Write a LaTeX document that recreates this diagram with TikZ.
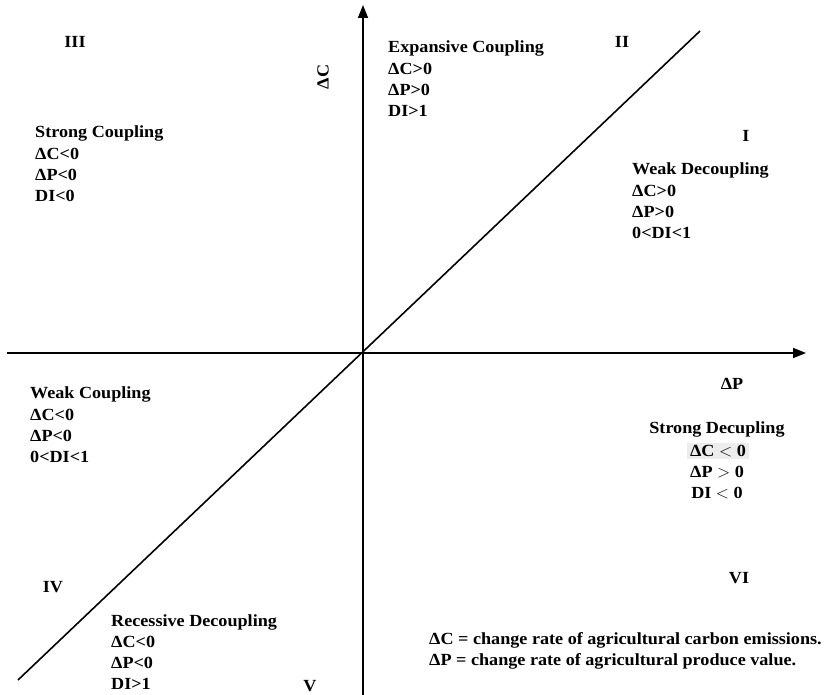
\documentclass[tikz,border=0pt]{standalone}
\usepackage{fontspec}
\setmainfont{Liberation Serif}[FakeStretch=1.067]
\usetikzlibrary{arrows.meta}
\begin{document}
\begin{tikzpicture}[x=1pt,y=-1pt,
  lbl/.style={font=\fontsize{17}{21.3}\selectfont\bfseries, inner sep=0pt},
  blk/.style={lbl, align=left, anchor=north west},
  axisline/.style={line width=1.6pt, -{Triangle[length=13pt,width=10pt]}},
  diag/.style={line width=1.6pt}]
\useasboundingbox (0,0) rectangle (825,695);
% axes
\coordinate (ytop) at (363,5);
\coordinate (ybot) at (363,695);
\coordinate (xl) at (7,353);
\coordinate (xr) at (806,353);
\coordinate (dl) at (18,680);
\coordinate (dr) at (700,31);
\draw[axisline] (ybot) -- (ytop);
\draw[axisline] (xl) -- (xr);
\draw[diag] (dl) -- (dr);
% axis labels
\node[lbl, rotate=90] (dC) at (323,77) {ΔC};
\node[lbl] (dP) at (732,384) {ΔP};
% roman numerals
\node[lbl] (r3) at (75,42) {III};
\node[lbl] (r2) at (622,42) {II};
\node[lbl] (r1) at (746,136) {I};
\node[lbl] (r4) at (53,587) {IV};
\node[lbl] (r5) at (310,686) {V};
\node[lbl] (r6) at (739,578) {VI};
% blocks
\node[blk] (exp) at (388,41) {Expansive Coupling\\ΔC>0\\ΔP>0\\DI>1};
\node[blk] (sc) at (35,126) {Strong Coupling\\ΔC<0\\ΔP<0\\DI<0};
\node[blk] (wd) at (632,163) {Weak Decoupling\\ΔC>0\\ΔP>0\\0<DI<1};
\node[blk] (wc) at (30,387) {Weak Coupling\\ΔC<0\\ΔP<0\\0<DI<1};
\node[blk] (rd) at (111,614) {Recessive Decoupling\\ΔC<0\\ΔP<0\\DI>1};
% strong decoupling
\node[lbl] (sd) at (717,429) {Strong Decupling};
\node[lbl, fill=black!7, inner xsep=3pt, inner ysep=2pt] (sd1) at (718,451) {ΔC $<$ 0};
\node[lbl] (sd2) at (717,472) {ΔP $>$ 0};
\node[lbl] (sd3) at (717,493) {DI $<$ 0};
% legend
\node[blk] (leg) at (429,632) {ΔC = change rate of agricultural carbon emissions.\\ΔP = change rate of agricultural produce value.};
\end{tikzpicture}
\end{document}
